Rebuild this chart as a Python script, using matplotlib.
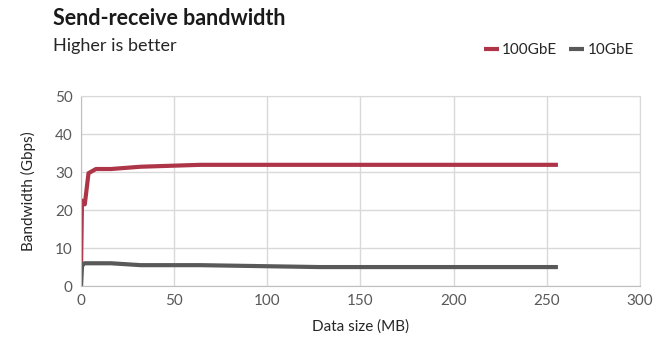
import matplotlib.pyplot as plt

plt.rcParams['font.family'] = ['Lato', 'DejaVu Sans']

# Data
size_mb = [0.001, 0.5, 1, 2, 4, 8, 16, 32, 64, 128, 256]
bw_100 = [5, 22.5, 22, 21.5, 29.7, 30.8, 30.8, 31.4, 31.9, 31.9, 31.9]
bw_10 = [0, 5.0, 5.8, 6.0, 6.0, 6.0, 6.0, 5.5, 5.5, 5.0, 5.0]

red = '#AE3548'
gray = '#595959'
grid_c = '#D9D9D9'

fig = plt.figure(figsize=(6.59, 3.43), dpi=100)
ax = fig.add_axes([0.123, 0.166, 0.848, 0.554])

ax.plot(size_mb, bw_100, color=red, lw=3, label='100GbE', solid_capstyle='butt')
ax.plot(size_mb, bw_10, color=gray, lw=3, label='10GbE', solid_capstyle='butt')

ax.set_xlim(0, 300)
ax.set_ylim(0, 50)
ax.set_xticks(range(0, 301, 50))
ax.set_yticks(range(0, 51, 10))
ax.grid(True, color=grid_c, lw=1)
ax.set_axisbelow(True)
for s in ax.spines.values():
    s.set_color(grid_c)
ax.spines['left'].set_color('#BFBFBF')
ax.spines['bottom'].set_color('#BFBFBF')
ax.tick_params(length=0, labelsize=11, labelcolor=gray, pad=6)

ax.set_xlabel('Data size (MB)', fontsize=11, color='#262626', labelpad=8)
ax.set_ylabel('Bandwidth (Gbps)', fontsize=11, color='#262626', labelpad=14)

fig.text(0.08, 0.945, 'Send-receive bandwidth', fontsize=15.5, fontweight='bold',
         color='#1A1A1A', va='center')
fig.text(0.08, 0.865, 'Higher is better', fontsize=13, color='#262626', va='center')

ax.legend(loc='center right', bbox_to_anchor=(1.0, 1.24), ncol=2, frameon=False,
          fontsize=11, handlelength=1.0, handletextpad=0.2, columnspacing=0.8,
          borderaxespad=0, labelcolor='#262626')

fig.savefig('out.png', dpi=100)
